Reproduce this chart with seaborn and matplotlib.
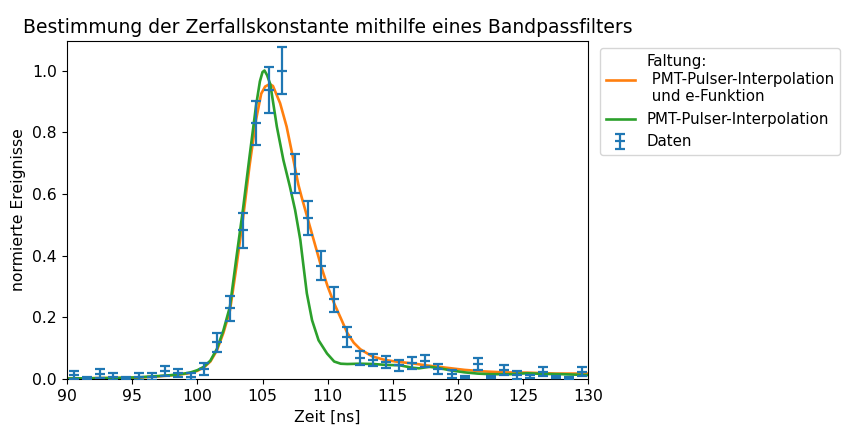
import matplotlib
matplotlib.use("Agg")
import matplotlib.pyplot as plt
import seaborn as sns
import pandas as pd

# Measured, normalised event counts per 1 ns time bin
zeit = [90.5, 91.5, 92.5, 93.5, 94.5, 95.5, 96.5, 97.5, 98.5, 99.5,
        100.5, 101.5, 102.5, 103.5, 104.5, 105.5, 106.5, 107.5, 108.5, 109.5,
        110.5, 111.5, 112.5, 113.5, 114.5, 115.5, 116.5, 117.5, 118.5, 119.5,
        120.5, 121.5, 122.5, 123.5, 124.5, 125.5, 126.5, 127.5, 128.5, 129.5]
ereignisse = [0.013, 0.0, 0.018, 0.008, 0.0, 0.008, 0.008, 0.027, 0.020, 0.008,
              0.032, 0.119, 0.229, 0.482, 0.830, 0.938, 1.000, 0.666, 0.522, 0.367,
              0.259, 0.137, 0.068, 0.062, 0.056, 0.045, 0.053, 0.059, 0.032, 0.016,
              0.003, 0.049, 0.003, 0.029, 0.013, 0.005, 0.024, 0.003, 0.0, 0.024]
fehler = [0.013, 0.008, 0.014, 0.011, 0.008, 0.011, 0.011, 0.016, 0.014, 0.011,
          0.019, 0.030, 0.039, 0.056, 0.070, 0.075, 0.076, 0.062, 0.056, 0.047,
          0.040, 0.032, 0.023, 0.021, 0.020, 0.018, 0.019, 0.020, 0.016, 0.012,
          0.008, 0.019, 0.008, 0.016, 0.013, 0.010, 0.015, 0.008, 0.008, 0.015]

# Convolution of the PMT pulser interpolation with an exponential decay
faltung_t = [90.0, 95.5, 97.0, 98.5, 99.5, 100.0, 100.5, 101.0, 101.5, 102.0,
             102.5, 103.0, 103.5, 104.0, 104.5, 104.9, 105.2, 105.55, 105.8, 106.35,
             106.85, 107.35, 107.75, 108.0, 108.5, 109.0, 109.5, 110.0, 110.5, 111.0,
             111.5, 112.0, 112.5, 113.4, 114.4, 115.4, 116.5, 117.5, 118.5, 119.5,
             120.5, 122.0, 123.5, 125.3, 127.5, 130.0]
faltung_y = [0.002, 0.005, 0.009, 0.014, 0.020, 0.027, 0.038, 0.057, 0.093, 0.150,
             0.222, 0.365, 0.520, 0.690, 0.840, 0.925, 0.948, 0.956, 0.950, 0.894,
             0.818, 0.715, 0.630, 0.590, 0.515, 0.440, 0.365, 0.300, 0.245, 0.198,
             0.150, 0.118, 0.097, 0.074, 0.062, 0.056, 0.051, 0.045, 0.040, 0.035,
             0.030, 0.025, 0.022, 0.021, 0.018, 0.018]

# PMT pulser interpolation
pmt_t = [90.0, 92.0, 94.0, 95.5, 97.0, 98.0, 99.0, 99.5, 100.0, 100.5,
         101.0, 101.5, 102.0, 102.5, 103.0, 103.5, 104.0, 104.5, 104.8, 105.0,
         105.15, 105.35, 105.6, 106.1, 106.6, 107.1, 107.5, 107.9, 108.15, 108.4,
         108.8, 109.3, 109.95, 110.5, 111.0, 111.5, 112.5, 113.5, 114.5, 115.5,
         116.5, 117.0, 117.8, 118.5, 119.5, 120.5, 121.5, 122.5, 124.0, 125.3,
         126.5, 128.0, 130.0]
pmt_y = [0.002, 0.003, 0.004, 0.006, 0.010, 0.013, 0.018, 0.022, 0.029, 0.040,
         0.060, 0.098, 0.158, 0.235, 0.395, 0.550, 0.720, 0.885, 0.965, 0.995,
         1.000, 0.985, 0.955, 0.818, 0.710, 0.624, 0.548, 0.451, 0.364, 0.278,
         0.191, 0.126, 0.083, 0.057, 0.050, 0.049, 0.050, 0.049, 0.046, 0.045,
         0.037, 0.035, 0.040, 0.036, 0.028, 0.022, 0.018, 0.016, 0.016, 0.019,
         0.017, 0.016, 0.013]

faltung = pd.DataFrame({"t": faltung_t, "y": faltung_y})
pmt = pd.DataFrame({"t": pmt_t, "y": pmt_y})

plt.rcParams["font.size"] = 11.25
plt.rcParams["xtick.major.size"] = 3.9
plt.rcParams["ytick.major.size"] = 3.9

fig = plt.figure(figsize=(8.45, 4.26), dpi=100)
ax = fig.add_axes([0.0793, 0.110, 0.617, 0.794])

sns.lineplot(data=faltung, x="t", y="y", ax=ax, color="#ff7f0e", lw=1.9,
             sort=False, label="Faltung:\n PMT-Pulser-Interpolation\n und e-Funktion")
sns.lineplot(data=pmt, x="t", y="y", ax=ax, color="#2ca02c", lw=1.9,
             sort=False, label="PMT-Pulser-Interpolation")
ax.errorbar(zeit, ereignisse, yerr=fehler, fmt="_", color="#1f77b4",
            ecolor="#1f77b4", elinewidth=1.6, capsize=3.4, markersize=7,
            mew=1.6, label="Daten", zorder=3)

ax.set_xlim(90, 130)
ax.set_ylim(0, 1.096)
ax.set_xticks([90, 95, 100, 105, 110, 115, 120, 125, 130])
ax.set_yticks([0.0, 0.2, 0.4, 0.6, 0.8, 1.0])
ax.set_xlabel("Zeit [ns]")
ax.set_ylabel("normierte Ereignisse")
ax.set_title("Bestimmung der Zerfallskonstante mithilfe eines Bandpassfilters")
ax.legend(loc="upper left", bbox_to_anchor=(1.008, 1.0), fontsize=10.85,
          handlelength=1.9)

fig.savefig("out.png", dpi=100)
